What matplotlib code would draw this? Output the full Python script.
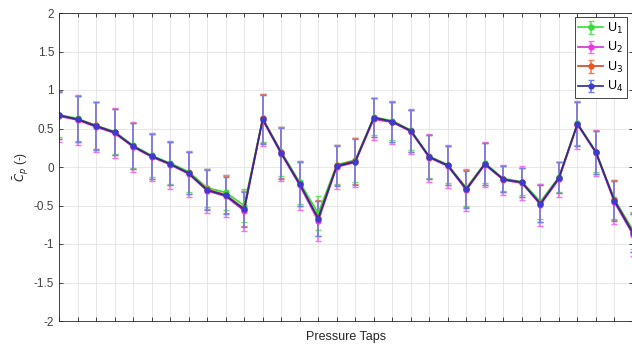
import numpy as np
import matplotlib.pyplot as plt

plt.rcParams["axes.unicode_minus"] = False
plt.rcParams["font.family"] = ["Liberation Sans", "DejaVu Sans"]

# mean pressure coefficient per tap, for each velocity
u1 = [0.68, 0.63, 0.54, 0.46, 0.28, 0.15, 0.05, -0.06, -0.27, -0.33, -0.50,
      0.63, 0.20, -0.20, -0.60, 0.03, 0.09, 0.65, 0.60, 0.48, 0.14, 0.03,
      -0.27, 0.05, -0.15, -0.19, -0.45, -0.13, 0.57, 0.20, -0.42, -0.82]
u2 = [0.66, 0.61, 0.52, 0.44, 0.26, 0.13, 0.03, -0.09, -0.31, -0.38, -0.57,
      0.61, 0.17, -0.24, -0.70, 0.00, 0.06, 0.62, 0.58, 0.46, 0.12, 0.01,
      -0.30, 0.03, -0.17, -0.21, -0.49, -0.16, 0.55, 0.18, -0.46, -0.88]
u3 = [0.67, 0.62, 0.54, 0.45, 0.27, 0.14, 0.04, -0.08, -0.29, -0.36, -0.54,
      0.63, 0.19, -0.22, -0.66, 0.02, 0.08, 0.64, 0.59, 0.47, 0.13, 0.02,
      -0.28, 0.04, -0.16, -0.20, -0.47, -0.14, 0.56, 0.19, -0.43, -0.85]
u4 = [0.67, 0.62, 0.53, 0.45, 0.27, 0.14, 0.04, -0.08, -0.30, -0.37, -0.55,
      0.62, 0.18, -0.22, -0.67, 0.01, 0.07, 0.64, 0.59, 0.47, 0.13, 0.02,
      -0.29, 0.04, -0.16, -0.20, -0.48, -0.14, 0.56, 0.19, -0.44, -0.86]

# standard deviations (error bars)
e1 = [0.29, 0.29, 0.30, 0.29, 0.29, 0.28, 0.27, 0.26, 0.25, 0.23, 0.22,
      0.31, 0.32, 0.28, 0.22, 0.25, 0.29, 0.24, 0.25, 0.26, 0.28, 0.24,
      0.23, 0.26, 0.16, 0.18, 0.23, 0.19, 0.28, 0.27, 0.25, 0.24]
e2 = [0.33, 0.33, 0.33, 0.32, 0.33, 0.31, 0.31, 0.30, 0.29, 0.27, 0.26,
      0.34, 0.35, 0.32, 0.26, 0.28, 0.32, 0.27, 0.28, 0.29, 0.31, 0.28,
      0.27, 0.29, 0.20, 0.22, 0.27, 0.23, 0.31, 0.30, 0.28, 0.27]
e3 = [0.30, 0.30, 0.31, 0.30, 0.30, 0.29, 0.28, 0.27, 0.26, 0.24, 0.23,
      0.32, 0.33, 0.29, 0.23, 0.26, 0.30, 0.25, 0.26, 0.27, 0.29, 0.25,
      0.24, 0.27, 0.17, 0.19, 0.24, 0.20, 0.29, 0.28, 0.26, 0.25]
e4 = [0.30, 0.30, 0.31, 0.30, 0.30, 0.29, 0.28, 0.27, 0.26, 0.24, 0.23,
      0.32, 0.33, 0.29, 0.23, 0.26, 0.30, 0.25, 0.26, 0.27, 0.29, 0.25,
      0.24, 0.27, 0.17, 0.19, 0.24, 0.20, 0.29, 0.28, 0.26, 0.25]

labels = ["U$_1$", "U$_2$", "U$_3$", "U$_4$"]
colors = ["#33dd33", "#ee33ee", "#ee5522", "#3b3bd0"]
line_colors = ["#33dd33", "#cc33cc", "#cc4422", "#2e2a96"]
bar_colors = ["#66e066", "#f070f0", "#f08050", "#7280ec"]
cap_colors = ["#2a6a2a", "#e060e0", "#7a3a2a", "#1a1a50"]

taps = np.arange(len(u1))

fig = plt.figure(figsize=(6.32, 3.47), dpi=100)
ax = fig.add_axes([59 / 632, 26 / 347, 574 / 632, 308 / 347])

for y, e, c, lc, bc, cc, lab in zip([u1, u2, u3, u4], [e1, e2, e3, e4], colors,
                                    line_colors, bar_colors, cap_colors, labels):
    ln, caps, bars = ax.errorbar(taps, y, yerr=e, color=lc, marker="o", ms=3.5,
                                 mfc=c, mec=c, lw=1.2, ecolor=bc,
                                 elinewidth=1.2, capsize=2, capthick=1.0,
                                 label=lab)
    for cap in caps:
        cap.set_color(cc)

ax.set_xlim(0, 574 / 18.7)
ax.set_ylim(-2, 2)
ax.set_xticks(taps)
ax.set_xticklabels([])
ax.set_yticks(np.arange(-2, 2.01, 0.5))
ax.set_yticklabels(["-2", "-1.5", "-1", "-0.5", "0", "0.5", "1", "1.5", "2"])
ax.tick_params(direction="in", top=True, right=True, length=3, width=0.6,
               colors="#262626", labelsize=8.5)
ax.tick_params(labelcolor="#404040")
ax.grid(True, color="#e3e3e3", lw=0.6)
ax.set_axisbelow(True)
for s in ax.spines.values():
    s.set_color("#262626")
    s.set_linewidth(0.6)

ax.set_xlabel("Pressure Taps", fontsize=9, color="#262626", labelpad=4)
ax.set_ylabel(r"$\bar{C}_p$ (-)", fontsize=8.5, color="#262626", labelpad=2)

leg = ax.legend(loc="upper right", bbox_to_anchor=(627 / 632, 1 - 17 / 347),
                bbox_transform=fig.transFigure, borderaxespad=0, fontsize=9,
                handlelength=2.0, handletextpad=0.3, borderpad=0.3,
                labelspacing=0.35, fancybox=False, framealpha=1)
leg.get_frame().set_edgecolor("#262626")
leg.get_frame().set_linewidth(0.6)

fig.savefig("out.png", dpi=100)
